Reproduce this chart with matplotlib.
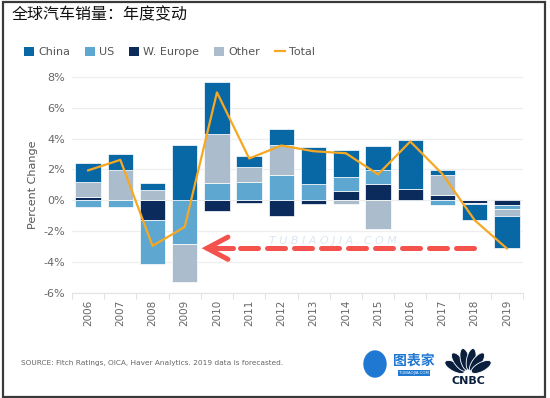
import numpy as np
import matplotlib
matplotlib.use('Agg')
import matplotlib.pyplot as plt
from matplotlib.patches import Rectangle, Patch, Ellipse
from matplotlib.lines import Line2D

plt.rcParams['font.family'] = ['DejaVu Sans', 'Noto Sans CJK SC']

# 数据
years = ['2006', '2007', '2008', '2009', '2010', '2011', '2012',
         '2013', '2014', '2015', '2016', '2017', '2018', '2019']
weur = [0.22, 0.0, -1.29, 0.0, -0.71, -0.17, -1.03, -0.22, 0.58, 1.08, 0.75, 0.32, -0.17, -0.28]
us = [-0.43, -0.43, -2.80, -2.80, 1.12, 1.16, 1.61, 1.03, 0.93, 0.90, 0.0, -0.32, 0.0, -0.30]
other = [0.97, 1.94, 0.69, -2.52, 3.18, 0.99, 2.00, 0.0, -0.22, -1.83, 0.0, 1.34, -0.09, -0.43]
china = [1.23, 1.07, 0.45, 3.61, 3.33, 0.71, 1.01, 2.43, 1.72, 1.53, 3.17, 0.32, -0.99, -2.06]
total = [1.94, 2.62, -2.95, -1.72, 6.99, 2.71, 3.55, 3.18, 3.05, 1.68, 3.81, 1.70, -1.29, -3.12]
yticks = [-6, -4, -2, 0, 2, 4, 6, 8]

c_china = '#0868a6'
c_us = '#5ea7d0'
c_weur = '#0a2b5c'
c_other = '#abbdcd'
c_total = '#f7a823'
c_red = '#f4524d'

W, H = 550, 398
fig = plt.figure(figsize=(5.5, 3.98), dpi=100)
fig.patches.append(Rectangle((3/W, 1/H), 542/W, 395/H, transform=fig.transFigure,
                             fill=False, edgecolor='#3a3a3a', lw=1.6))

fig.text(12/W, 1 - 15/H, '全球汽车销量：年度变动', fontsize=11.5,
         family=['Noto Sans CJK SC', 'DejaVu Sans'], va='center', ha='left', color='#111111')

ax = fig.add_axes([72/W, 1 - 293/H, 451/W, 217/H])
x = np.arange(len(years))
w = 0.79

# 正负分开堆叠, 顺序: 西欧, 美国, 其他, 中国
pos = np.zeros(len(years))
neg = np.zeros(len(years))
for vals, col in [(weur, c_weur), (us, c_us), (other, c_other), (china, c_china)]:
    v = np.array(vals)
    b = np.where(v >= 0, pos, neg)
    ax.bar(x, v, w, bottom=b, color=col, edgecolor='white', linewidth=0.5, zorder=3)
    pos = pos + np.where(v > 0, v, 0)
    neg = neg + np.where(v < 0, v, 0)

ax.plot(x, total, color=c_total, lw=1.6, zorder=4)

ax.set_xlim(-0.5, len(years) - 0.5)
ax.set_ylim(-6, 8.05)
ax.set_yticks(yticks)
ax.set_yticklabels([f'{v}%' for v in yticks])
ax.set_xticks(x)
ax.set_xticklabels(years, rotation=90)
ax.set_xticks(np.arange(-0.5, len(years)), minor=True)
ax.tick_params(axis='x', which='major', length=0, pad=5, labelsize=7.5, labelcolor='#666666')
ax.tick_params(axis='x', which='minor', length=4, color='#dddddd')
ax.tick_params(axis='y', length=0, pad=5, labelsize=8, labelcolor='#666666')
ax.grid(axis='y', color='#eeeeee', lw=0.9, zorder=0)
for s in ['top', 'right', 'left']:
    ax.spines[s].set_visible(False)
ax.spines['bottom'].set_color('#e3e3e3')
ax.set_ylabel('Percent Change', fontsize=8, color='#555555', labelpad=4)

# 水印
ax.text(7.6, -2.65, 'T U B I A O J I A . C O M', fontsize=8, color='#dde6ef',
        ha='center', va='center', style='italic', zorder=2)

# 红色虚线箭头
ax.plot([4.72, 12.0], [-3.1, -3.1], color=c_red, lw=3.6, dashes=(3.6, 1.8),
        dash_capstyle='round', zorder=5)
ax.plot([3.69, 4.5], [-3.1, -3.1], color=c_red, lw=3.6, solid_capstyle='round', zorder=5)
ax.plot([4.34, 3.69, 4.34], [-2.38, -3.1, -3.82], color=c_red, lw=3.6,
        solid_capstyle='round', solid_joinstyle='miter', zorder=5)

# 图例
handles = [Patch(facecolor=c_china, label='China'),
           Patch(facecolor=c_us, label='US'),
           Patch(facecolor=c_weur, label='W. Europe'),
           Patch(facecolor=c_other, label='Other'),
           Line2D([], [], color=c_total, lw=1.6, label='Total')]
fig.legend(handles=handles, loc='center left', bbox_to_anchor=(14/W, 1 - 52/H), ncol=5,
           frameon=False, fontsize=8, labelcolor='#555555', handlelength=0.9, handleheight=0.9,
           handletextpad=0.4, columnspacing=1.3)

# 底部来源
fig.text(21/W, 1 - 363/H, 'SOURCE: Fitch Ratings, OICA, Haver Analytics. 2019 data is forecasted.',
         fontsize=5.3, color='#666666', va='center')

# logo 区域, 像素坐标
lax = fig.add_axes([355/W, 1 - 392/H, 150/W, 50/H])
lax.set_xlim(355, 505)
lax.set_ylim(392, 342)
lax.axis('off')

# 图表家
lax.add_patch(Ellipse((375, 364), 22, 26, color='#1f78d1'))
lax.text(414, 361, '图表家', fontsize=10, color='#1f78d1', fontweight='bold',
         family=['Noto Sans CJK SC', 'DejaVu Sans'], ha='center', va='center')
lax.text(414, 373, 'TUBIAOJIA.COM', fontsize=2.8, color='white', ha='center',
         va='center', bbox=dict(boxstyle='square,pad=0.3', fc='#1f78d1', ec='none'))

# CNBC 孔雀
ox, oy = 468, 374
for ang in [-62, -37, -12, 12, 37, 62]:
    th = np.deg2rad(ang)
    cx = ox + 15 * np.sin(th)
    cy = oy - 15 * np.cos(th)
    lax.add_patch(Ellipse((cx, cy), 9, 22, angle=ang, facecolor='#0a1f3d',
                          edgecolor='white', lw=0.6))
lax.text(468, 381, 'CNBC', fontsize=8, fontweight='bold', color='#0a1f3d',
         ha='center', va='center')

fig.savefig('out.png', dpi=100)
